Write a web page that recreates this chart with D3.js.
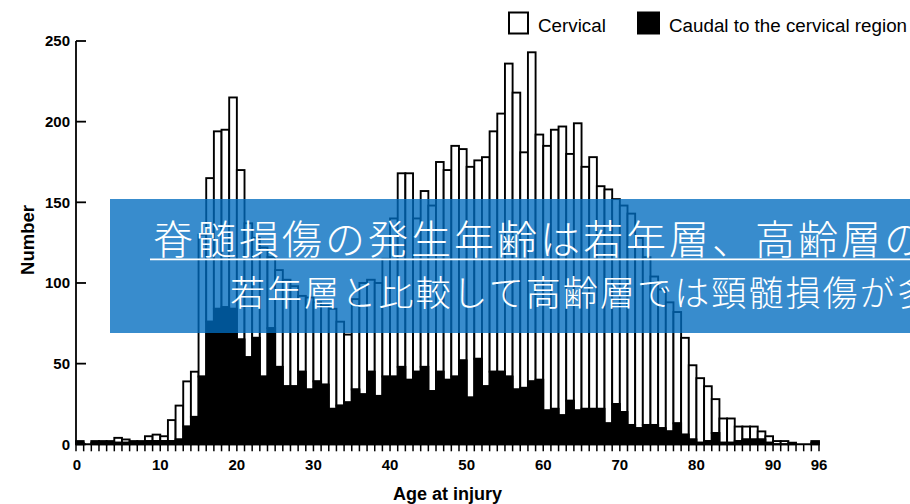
<!DOCTYPE html>
<html>
<head>
<meta charset="utf-8">
<script src="https://cdn.jsdelivr.net/npm/d3@7"></script>
<style>
  html, body { margin: 0; padding: 0; background: #fff; }
  svg { display: block; }
</style>
</head>
<body>
<svg id="chart" width="910" height="504"></svg>
<script>
// Age at injury, one bar per year of age (0 … 96)
const ages = d3.range(0, 97);

// Injuries below the cervical region (black, bottom of each bar)
const caudal = [
  1, 0, 1, 1, 1, 1, 1, 1, 1, 2,
  2, 2, 2, 3, 11, 17, 42, 76, 84, 85,
  84, 65, 54, 66, 42, 72, 48, 36, 36, 45,
  34, 39, 37, 22, 24, 26, 34, 31, 45, 30,
  42, 42, 48, 40, 45, 48, 33, 45, 40, 42,
  52, 29, 53, 36, 45, 45, 42, 34, 35, 39,
  40, 21, 22, 18, 27, 21, 22, 22, 22, 13,
  25, 20, 12, 10, 12, 12, 10, 8, 13, 6,
  3, 1, 2, 7, 1, 1, 2, 3, 3, 3,
  1, 0, 0, 0, 0, 0, 1
];

// Cervical injuries (white, stacked on top)
const cervical = [
  1, 0, 1, 1, 1, 3, 2, 1, 1, 3,
  4, 3, 13, 21, 28, 28, 88, 89, 110, 110,
  131, 105, 83, 62, 80, 44, 60, 66, 62, 47,
  57, 49, 49, 62, 52, 42, 56, 69, 57, 70,
  73, 98, 120, 128, 95, 109, 115, 130, 130, 143,
  131, 143, 123, 142, 149, 160, 194, 184, 146, 204,
  152, 164, 173, 179, 153, 178, 150, 156, 138, 145,
  127, 128, 131, 118, 104, 92, 86, 80, 69, 60,
  46, 40, 34, 21, 15, 15, 9, 8, 8, 5,
  4, 2, 2, 1, 0, 0, 1
];

const yTicks = [0, 50, 100, 150, 200, 250];
const xTickLabels = [0, 10, 20, 30, 40, 50, 60, 70, 80, 90, 96];
const seriesKeys = ["caudal", "cervical"];
const legendLabels = { cervical: "Cervical", caudal: "Caudal to the cervical region" };
const bannerLines = [
  "脊髄損傷の発生年齢は若年層、高齢層の",
  "若年層と比較して高齢層では頸髄損傷が多"
];

const rows = ages.map((age, i) => ({ age, caudal: caudal[i], cervical: cervical[i] }));
const stacked = d3.stack().keys(seriesKeys)(rows);

const svg = d3.select("#chart");
const font = "'Liberation Sans', Arial, Helvetica, sans-serif";

// bar k occupies [k, k+1] on the age axis
const x = d3.scaleLinear().domain([0, 97]).range([76, 819]);
const y = d3.scaleLinear().domain([0, 250]).range([444.3, 41]);

const fills = { caudal: "#000", cervical: "#fff" };

// bars: cervical (outlined white) first, caudal (solid black) drawn over its base
const layers = [stacked[1], stacked[0]];
svg.append("g")
  .selectAll("g")
  .data(layers)
  .join("g")
    .attr("fill", d => fills[d.key])
    .attr("stroke", "#000")
    .attr("stroke-width", 1.9)
  .selectAll("rect")
  .data(d => d.filter(p => p[1] - p[0] > 0))
  .join("rect")
    .attr("x", p => x(p.data.age))
    .attr("width", p => x(p.data.age + 1) - x(p.data.age))
    .attr("y", p => y(p[1]))
    .attr("height", p => y(p[0]) - y(p[1]));

// y axis: spine with inward ticks
const yAxis = svg.append("g").attr("stroke", "#000").attr("stroke-width", 1.8);
yAxis.append("line")
  .attr("x1", 76).attr("x2", 76)
  .attr("y1", y(0)).attr("y2", y(250));
yAxis.selectAll("line.tick")
  .data(yTicks)
  .join("line")
    .attr("class", "tick")
    .attr("x1", 76).attr("x2", 86)
    .attr("y1", d => y(d)).attr("y2", d => y(d));

svg.append("g")
  .selectAll("text")
  .data(yTicks)
  .join("text")
    .attr("x", 70)
    .attr("y", d => y(d))
    .attr("dy", "0.36em")
    .attr("text-anchor", "end")
    .attr("font-family", font)
    .attr("font-weight", "bold")
    .attr("font-size", 15)
    .text(d => d);

// x axis: baseline plus a short tick at every bar edge
const xAxis = svg.append("g").attr("stroke", "#000");
xAxis.append("line")
  .attr("x1", x(0)).attr("x2", x(97))
  .attr("y1", y(0)).attr("y2", y(0))
  .attr("stroke-width", 2);
xAxis.selectAll("line.tick")
  .data(d3.range(0, 98))
  .join("line")
    .attr("class", "tick")
    .attr("stroke-width", 1.5)
    .attr("x1", d => x(d)).attr("x2", d => x(d))
    .attr("y1", y(0)).attr("y2", y(0) + 7);

// labels sit at the closing edge of their year; the origin label sits on the spine
svg.append("g")
  .selectAll("text")
  .data(xTickLabels)
  .join("text")
    .attr("x", d => d === 0 ? x(0) + 1 : x(d + 1))
    .attr("y", 470)
    .attr("text-anchor", "middle")
    .attr("font-family", font)
    .attr("font-weight", "bold")
    .attr("font-size", 15)
    .text(d => d);

// axis titles
svg.append("text")
  .attr("transform", "translate(34,240) rotate(-90)")
  .attr("text-anchor", "middle")
  .attr("font-family", font)
  .attr("font-weight", "bold")
  .attr("font-size", 18.5)
  .text("Number");

svg.append("text")
  .attr("x", 447.5)
  .attr("y", 500)
  .attr("text-anchor", "middle")
  .attr("font-family", font)
  .attr("font-weight", "bold")
  .attr("font-size", 18)
  .text("Age at injury");

// legend
const legendItems = [
  { key: "cervical", box: 509, text: 538 },
  { key: "caudal", box: 638, text: 669 }
];
const legend = svg.append("g");
legend.selectAll("rect")
  .data(legendItems)
  .join("rect")
    .attr("x", d => d.box)
    .attr("y", 12.5)
    .attr("width", d => d.key === "caudal" ? 21 : 19)
    .attr("height", 21)
    .attr("fill", d => fills[d.key])
    .attr("stroke", "#000")
    .attr("stroke-width", 2);
legend.selectAll("text")
  .data(legendItems)
  .join("text")
    .attr("x", d => d.text)
    .attr("y", 31.5)
    .attr("font-family", font)
    .attr("font-size", 18.8)
    .text(d => legendLabels[d.key]);

// translucent caption banner across the chart
const banner = svg.append("g");
banner.append("rect")
  .attr("x", 110).attr("y", 199)
  .attr("width", 800).attr("height", 134)
  .attr("fill", "rgb(0,108,191)")
  .attr("fill-opacity", 0.78);

const cjk = "'Noto Sans CJK JP', 'Noto Sans CJK SC', sans-serif";
banner.append("text")
  .attr("x", 153).attr("y", 254)
  .attr("font-family", cjk)
  .attr("font-weight", 300)
  .attr("font-size", 40)
  .attr("letter-spacing", 3)
  .attr("fill", "#fff")
  .text(bannerLines[0]);
banner.append("line")
  .attr("x1", 150).attr("x2", 910)
  .attr("y1", 259.3).attr("y2", 259.3)
  .attr("stroke", "#fff")
  .attr("stroke-width", 1.8);
banner.append("text")
  .attr("x", 230).attr("y", 306)
  .attr("font-family", cjk)
  .attr("font-weight", 300)
  .attr("font-size", 35)
  .attr("letter-spacing", 2.1)
  .attr("fill", "#fff")
  .text(bannerLines[1]);
</script>
</body>
</html>
